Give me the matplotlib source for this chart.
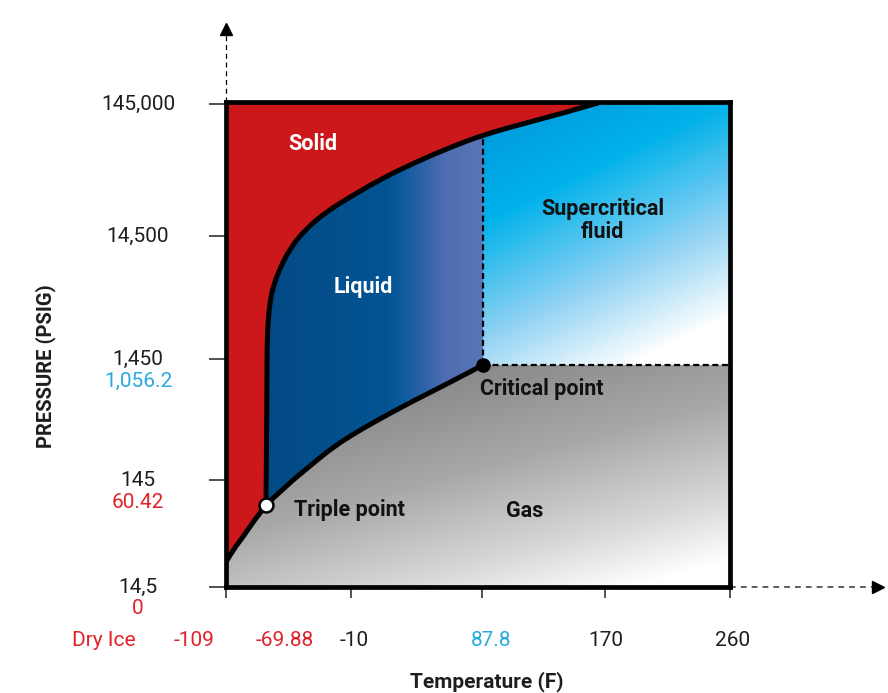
import numpy as np
import matplotlib
matplotlib.use("Agg")
import matplotlib.pyplot as plt
from matplotlib.patches import Polygon
from matplotlib.path import Path
from matplotlib.colors import LinearSegmentedColormap

plt.rcParams['font.family'] = ['Roboto', 'DejaVu Sans']

RED = "#E0232B"
BLUE = "#29A9E1"
BLACK = "#1E1E1E"

# ---- axis ticks (schematic positions) and labels ----
x_tick_pos = [0, 125, 256, 379, 504]
x_label_pos = [-122, -32, 59, 128, 265, 380, 507]
x_labels = ["Dry Ice", "-109", "-69.88", "-10", "87.8", "170", "260"]
x_label_colors = [RED, RED, RED, BLACK, BLUE, BLACK, BLACK]

y_tick_pos = [0, 107, 228, 351, 483]
y_main_labels = ["14,5", "145", "1,450", "14,500", "145,000"]
y_sub_labels = ["0", "60.42", "1,056.2", "", ""]
y_sub_colors = [RED, RED, BLUE, BLACK, BLACK]

# ---- phase boundaries (schematic) ----
triple = (40, 82)
critical = (257, 222)

sub_x = [0, 7, 17, 27, 40]
sub_y = [25, 37, 50, 65, 82]

melt_x = [40, 41, 41, 42, 44, 47, 54, 65, 80, 100, 124, 155, 190, 225, 257, 296, 334, 372]
melt_y = [82, 200, 240, 265, 285, 300, 319, 340, 358, 375, 390, 408, 425, 440, 452, 463, 473, 484]

boil_x = [40, 61, 84, 107, 134, 161, 187, 221, 257]
boil_y = [82, 102, 121, 140, 157, 172, 186, 203, 222]

XMAX, YMAX = 504, 485


def smooth(xs, ys):
    """Render the read points as a smooth quadratic-Bezier path and flatten it."""
    P = np.column_stack([xs, ys]).astype(float)
    verts = [P[0]]
    codes = [Path.MOVETO]
    for i in range(1, len(P) - 2):
        verts += [P[i], (P[i] + P[i + 1]) / 2]
        codes += [Path.CURVE3, Path.CURVE3]
    verts += [P[-2], P[-1]]
    codes += [Path.CURVE3, Path.CURVE3]
    return Path(verts, codes).to_polygons(closed_only=False)[0]


sub_c = smooth(sub_x, sub_y)
melt_c = smooth(melt_x, melt_y)
boil_c = smooth(boil_x, boil_y)

# split melting curve at the critical temperature
y_split = np.interp(critical[0], melt_c[:, 0], melt_c[:, 1])
low = melt_c[melt_c[:, 0] < critical[0]]
high = melt_c[melt_c[:, 0] > critical[0]]
melt_low = np.vstack([low, [critical[0], y_split]])
melt_high = np.vstack([[critical[0], y_split], high])

fig = plt.figure(figsize=(8.88, 6.93), dpi=100)
ax = fig.add_axes([226 / 888, (693 - 587) / 693, 504 / 888, 485 / 693])
ax.set_xlim(0, XMAX)
ax.set_ylim(0, YMAX)

solid_poly = np.vstack([[[0, YMAX], [melt_c[-1, 0], YMAX]], melt_c[::-1], sub_c[::-1][1:]])
liquid_poly = np.vstack([melt_low, [critical], boil_c[::-1][1:]])
super_poly = np.vstack([melt_high, [[melt_c[-1, 0], YMAX], [XMAX, YMAX], [XMAX, critical[1]], critical]])
gas_poly = np.vstack([[[0, 0], [XMAX, 0], [XMAX, critical[1]]], boil_c[::-1], sub_c[::-1][1:]])

ax.add_patch(Polygon(solid_poly, closed=True, facecolor="#CD181B", edgecolor="none", zorder=1))

gx, gy = np.meshgrid(np.linspace(0, XMAX, 504), np.linspace(0, YMAX, 485))


def grad_fill(poly, t, stops):
    cmap = LinearSegmentedColormap.from_list("g", stops)
    img = cmap(np.clip(t, 0, 1))
    patch = Polygon(poly, closed=True, facecolor="none", edgecolor="none")
    ax.add_patch(patch)
    im = ax.imshow(img, extent=(0, XMAX, 0, YMAX), origin="lower",
                   aspect="auto", interpolation="bilinear", zorder=1)
    im.set_clip_path(patch)


# liquid: horizontal gradient
t_liq = (gx - triple[0]) / (critical[0] - triple[0])
grad_fill(liquid_poly, t_liq, [(0, "#034A85"), (0.55, "#035493"), (0.62, "#0B5A9C"),
                               (0.82, "#4D6CB1"), (1.0, "#5876B8")])
# supercritical: diagonal gradient
t_sup = 0.00147 * (gx - critical[0]) + 0.003 * (482 - gy)
grad_fill(super_poly, t_sup, [(0, "#0095D8"), (0.35, "#00B2EB"), (0.7, "#8FD2F2"), (1.0, "#FFFFFF")])
# gas: diagonal gradient
t_gas = 0.00084 * (gx - triple[0]) + 0.0031 * (critical[1] - gy)
grad_fill(gas_poly, t_gas, [(0, "#777777"), (0.5, "#A8A8A8"), (0.8, "#D8D8D8"), (1.0, "#FFFFFF")])

# boundaries
lw = 3.6
for c in (sub_c, melt_c, boil_c):
    ax.plot(c[:, 0], c[:, 1], color="black", lw=lw, solid_capstyle="round",
            solid_joinstyle="round", zorder=4)
ax.plot([critical[0], critical[0]], [critical[1], y_split], color="black", lw=1.6,
        linestyle=(0, (2.7, 1.6)), zorder=3)
ax.plot([critical[0], XMAX], [critical[1], critical[1]], color="black", lw=1.6,
        linestyle=(0, (2.7, 1.6)), zorder=3)

ax.plot(*critical, marker="o", ms=9.5, color="black", zorder=6)
ax.plot(*triple, marker="o", ms=10, mfc="white", mec="black", mew=1.8, zorder=6)

# frame
for s in ax.spines.values():
    s.set_linewidth(3.4)
    s.set_color("black")
    s.set_zorder(5)

ax.set_xticks(x_tick_pos)
ax.set_yticks(y_tick_pos)
ax.tick_params(labelbottom=False, labelleft=False, direction="out", color="#333333", width=1.2)
ax.tick_params(axis="x", length=8)
ax.tick_params(axis="y", length=12)

# dashed axis arrows
ax.plot([0, 0], [YMAX, 553], color="black", lw=0.9, linestyle=(0, (4, 3)), clip_on=False, zorder=2)
ax.plot(0, 558, marker="^", ms=8, color="black", clip_on=False)
ax.plot([XMAX, 648], [0, 0], color="#444444", lw=1.2, linestyle=(0, (3.5, 3)), clip_on=False, zorder=2)
ax.plot(652, 0, marker=">", ms=8, color="black", clip_on=False)

# tick labels
fs = 15
for yp, lab, sub, col in zip(y_tick_pos, y_main_labels, y_sub_labels, y_sub_colors):
    ax.text(-88, yp, lab, ha="center", va="center", fontsize=fs, color=BLACK, clip_on=False)
    if sub:
        ax.text(-88, yp - 22, sub, ha="center", va="center", fontsize=fs, color=col, clip_on=False)
for xp, lab, col in zip(x_label_pos, x_labels, x_label_colors):
    ax.text(xp, -53, lab, ha="center", va="center", fontsize=fs, color=col, clip_on=False)

ax.text(261, -95, "Temperature (F)", ha="center", va="center", fontsize=15,
        fontweight="bold", color=BLACK, clip_on=False)
ax.text(-180, 221, "PRESSURE (PSIG)", ha="center", va="center", rotation=90,
        fontsize=14.5, fontweight="bold", color=BLACK, clip_on=False)

# region labels
rfs = 15.5
ax.text(87, 437, "Solid", ha="center", va="baseline", fontsize=rfs, fontweight="bold", color="white", zorder=7)
ax.text(137, 294, "Liquid", ha="center", va="baseline", fontsize=rfs, fontweight="bold", color="white", zorder=7)
ax.text(377, 372, "Supercritical", ha="center", va="baseline", fontsize=rfs, fontweight="bold", color="#111111", zorder=7)
ax.text(376, 349, "fluid", ha="center", va="baseline", fontsize=rfs, fontweight="bold", color="#111111", zorder=7)
ax.text(316, 192, "Critical point", ha="center", va="baseline", fontsize=rfs, fontweight="bold", color="#111111", zorder=7)
ax.text(123, 71, "Triple point", ha="center", va="baseline", fontsize=rfs, fontweight="bold", color="#111111", zorder=7)
ax.text(299, 70, "Gas", ha="center", va="baseline", fontsize=rfs, fontweight="bold", color="#111111", zorder=7)

fig.savefig("out.png", dpi=100)
